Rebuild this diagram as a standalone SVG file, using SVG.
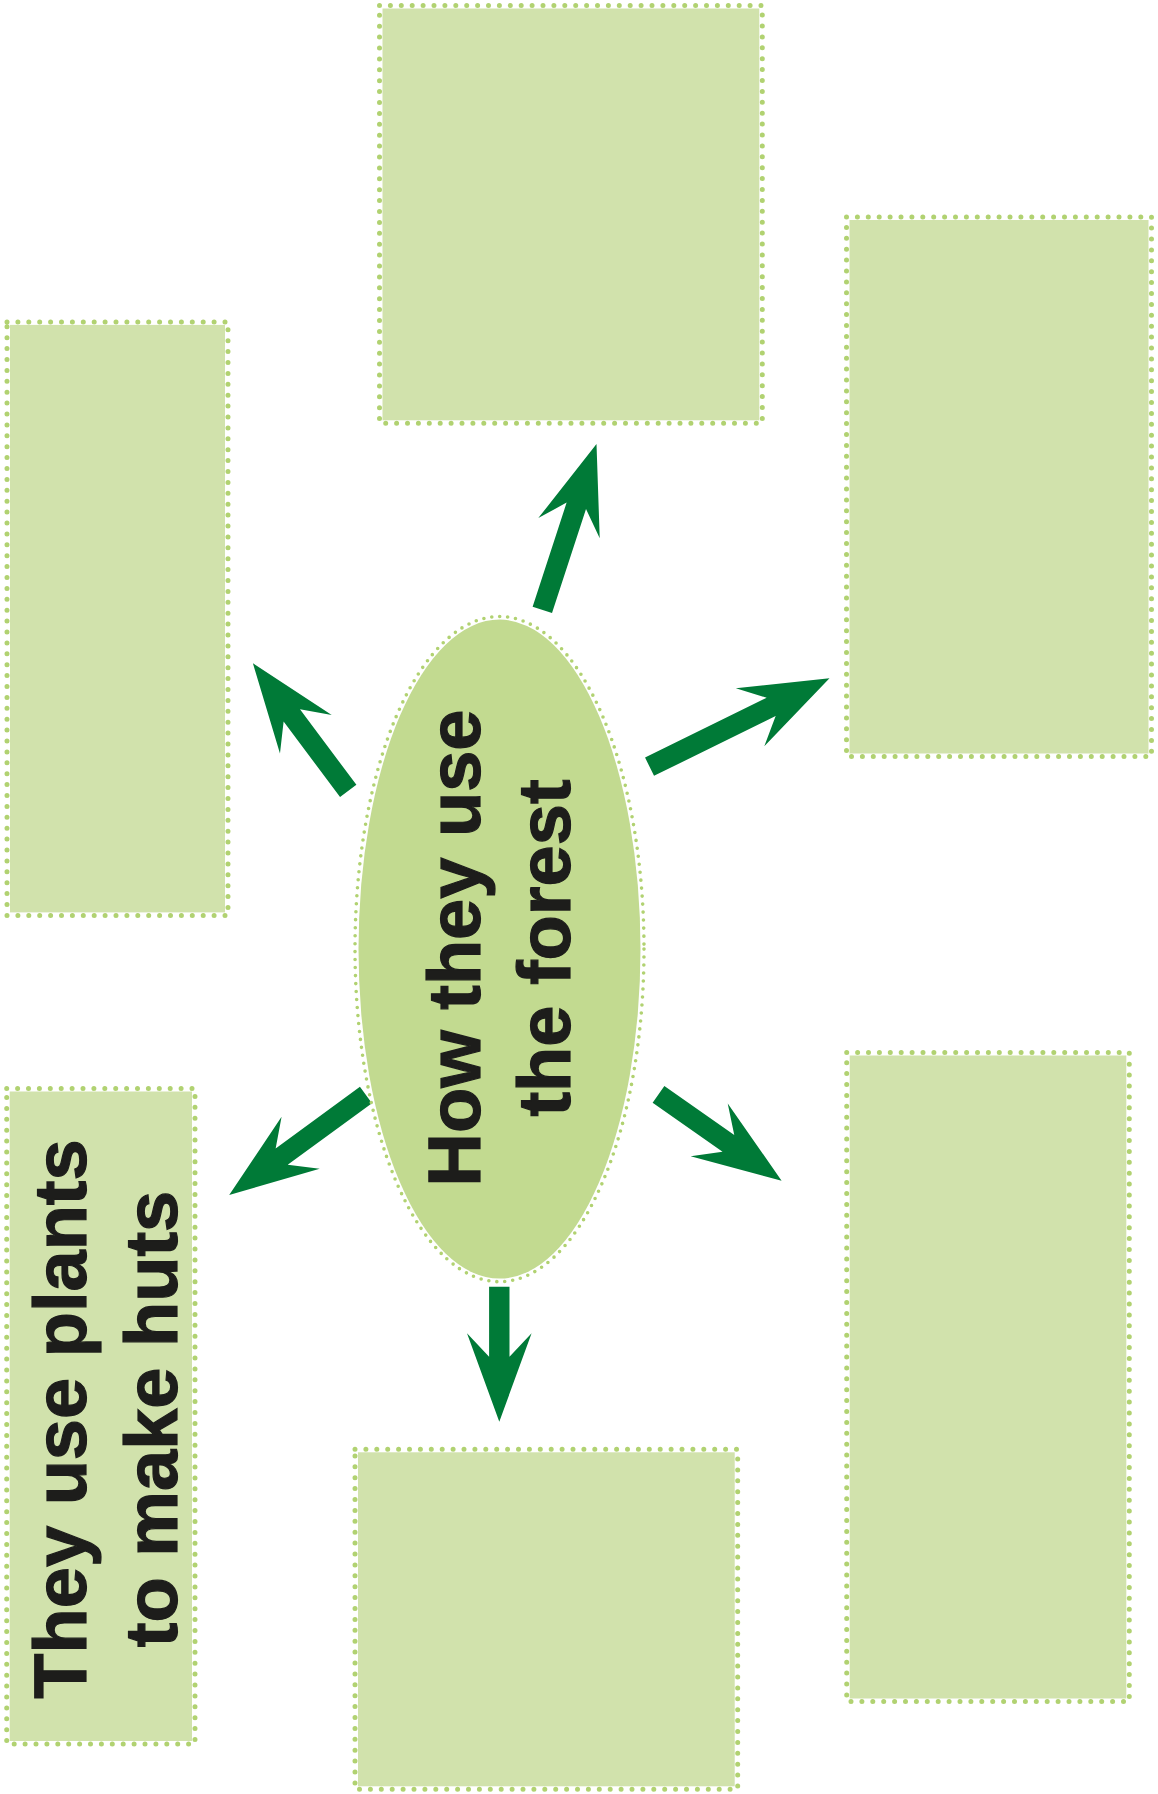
<svg xmlns="http://www.w3.org/2000/svg" width="1158" height="1794" viewBox="0 0 1158 1794">
<style>
.fill{fill:#d1e2ac;stroke:none}
.dots{fill:none;stroke:#b1d271;stroke-width:5;stroke-linecap:round;stroke-dasharray:0 10.9}
.efill{fill:#c2da90;stroke:none}
.edots{fill:none;stroke:#b1d271;stroke-width:3.6;stroke-linecap:round;stroke-dasharray:0 8}
.arrow{fill:#007a37;stroke:none}
.lbl{font-family:"Liberation Sans",Arial,sans-serif;font-weight:bold;font-size:74px;fill:#1d1d1b;stroke:#1d1d1b;stroke-width:1.2;text-anchor:middle}
</style>
<rect width="1158" height="1794" fill="#ffffff"/>
<g id="connectors">
<polygon class="arrow" transform="translate(596.5,444) rotate(-71.91)" points="0,0 -88.5,-32.3 -65,-10.2 -174.5,-10.2 -174.5,10.2 -65,10.2 -88.5,32.3"/>
<polygon class="arrow" transform="translate(252.9,663.3) rotate(-126.75)" points="0,0 -88.5,-32.3 -65,-10.2 -159.3,-10.2 -159.3,10.2 -65,10.2 -88.5,32.3"/>
<polygon class="arrow" transform="translate(829.5,678.3) rotate(-26.16)" points="0,0 -88.5,-32.3 -65,-10.2 -200.5,-10.2 -200.5,10.2 -65,10.2 -88.5,32.3"/>
<polygon class="arrow" transform="translate(229.2,1195) rotate(143.83)" points="0,0 -88.5,-32.3 -65,-10.2 -169.4,-10.2 -169.4,10.2 -65,10.2 -88.5,32.3"/>
<polygon class="arrow" transform="translate(781.6,1180.7) rotate(35.07)" points="0,0 -88.5,-32.3 -65,-10.2 -150.4,-10.2 -150.4,10.2 -65,10.2 -88.5,32.3"/>
<polygon class="arrow" transform="translate(499.3,1421.7) rotate(90)" points="0,0 -88.5,-32.3 -65,-10.2 -135,-10.2 -135,10.2 -65,10.2 -88.5,32.3"/>
</g>
<g id="center">
<ellipse class="efill" cx="499.5" cy="949.1" rx="141" ry="329.5"/>
<ellipse class="edots" cx="499.5" cy="949.1" rx="144.5" ry="332.6"/>
<text class="lbl" transform="translate(480,948) rotate(-90)">How they use</text>
<text class="lbl" transform="translate(570,948) rotate(-90)">the forest</text>
</g>
<g id="box-top">
<rect class="fill" x="382.5" y="8.5" width="376.8" height="411.8"/>
<rect class="dots" x="379.5" y="5.5" width="382.8" height="417.8"/>
</g>
<g id="box-left-top">
<rect class="fill" x="10" y="324.9" width="215" height="587.5"/>
<rect class="dots" x="7" y="321.9" width="221" height="593.5"/>
</g>
<g id="box-right-top">
<rect class="fill" x="849.5" y="220" width="299" height="533.5"/>
<rect class="dots" x="846.5" y="217" width="305" height="539.5"/>
</g>
<g id="box-left-bottom">
<rect class="fill" x="9.7" y="1091.5" width="182.3" height="649.5"/>
<rect class="dots" x="6.7" y="1088.5" width="188.3" height="655.5"/>
<text class="lbl" transform="translate(86,1419) rotate(-90)">They use plants</text>
<text class="lbl" transform="translate(177,1419) rotate(-90)">to make huts</text>
</g>
<g id="box-bottom">
<rect class="fill" x="358" y="1452.3" width="376.7" height="334"/>
<rect class="dots" x="355" y="1449.3" width="382.7" height="340"/>
</g>
<g id="box-right-bottom">
<rect class="fill" x="849.7" y="1055.5" width="276.6" height="643"/>
<rect class="dots" x="846.7" y="1052.5" width="282.6" height="649"/>
</g>
</svg>
